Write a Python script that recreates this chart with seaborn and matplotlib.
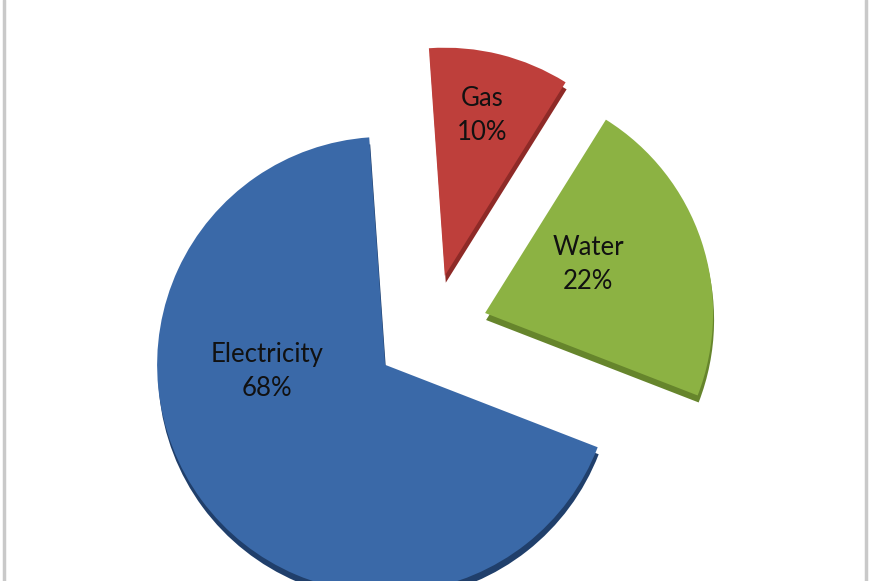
import matplotlib
matplotlib.use("Agg")
import numpy as np
import seaborn as sns
import matplotlib.pyplot as plt
from matplotlib.lines import Line2D

# data
categories = ["Gas", "Water", "Electricity"]
shares = [10, 22, 68]

# styling
face_colors = ["#BE3F3B", "#8CB243", "#3A69A8"]
rim_colors = ["#8E2A27", "#66852C", "#203F6B"]
label_angle_shift = [1, 7, -33]      # degrees off the wedge middle
label_radius = [0.72, 0.50, 0.52]    # fraction of the radius

sns.set_theme(style="white")
plt.rcParams['font.family'] = ['Lato', 'DejaVu Sans']

W, H = 872, 581
fig = plt.figure(figsize=(W / 100, H / 100), dpi=100)
ax = fig.add_axes([0, 0, 1, 1])
ax.set_xlim(0, W)
ax.set_ylim(0, H)
ax.set_aspect('equal')
ax.axis('off')

center = (431, H - 331)
radius = 228
# pie() takes explode in data units, so scale by the radius
explode = [0.25 * radius] * len(shares)

# darker copy underneath for the 3D rim
ax.pie(shares, explode=explode, colors=rim_colors, startangle=94,
       counterclock=False, radius=radius,
       center=(center[0] + 1, center[1] - 7),
       wedgeprops=dict(linewidth=0))

wedges, _ = ax.pie(shares, explode=explode, colors=face_colors,
                   startangle=94, counterclock=False, radius=radius,
                   center=center, wedgeprops=dict(linewidth=0))

ax.set_xlim(0, W)
ax.set_ylim(0, H)

for w, name, pct, da, rf in zip(wedges, categories, shares,
                                label_angle_shift, label_radius):
    mid = (w.theta1 + w.theta2) / 2 + da
    cx, cy = w.center
    x = cx + rf * radius * np.cos(np.radians(mid))
    y = cy + rf * radius * np.sin(np.radians(mid))
    ax.text(x, y, f"{name}\n{pct}%", ha='center', va='center',
            fontsize=18.5, color='#111111', linespacing=1.45)

# grey side frame
for xf in (4 / W, 866 / W):
    fig.add_artist(Line2D([xf, xf], [0, 1], color='#c9c9c9', lw=2.5,
                          transform=fig.transFigure))

fig.savefig("out.png", dpi=100)
